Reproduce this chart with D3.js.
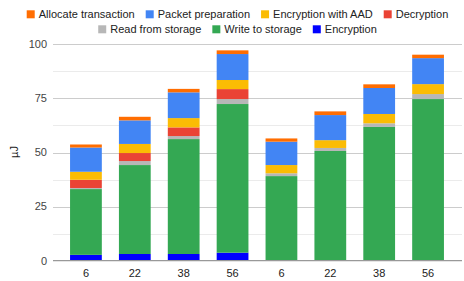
<!DOCTYPE html>
<meta charset="utf-8">
<script src="https://d3js.org/d3.v7.min.js"></script>
<style>
  body { margin: 0; background: #fff; }
  text { font-family: Arial, "Liberation Sans", sans-serif; }
</style>
<body>
<svg id="chart" width="464" height="281"></svg>
<script>
// categories (payload size), two groups of four bars
const labels = ["6", "22", "38", "56", "6", "22", "38", "56"];

// series, bottom of the stack first
const encryption   = [2.7, 3.1, 3.1, 3.7, 0.3, 0.0, 0.3, 0.0];
const writeStorage = [30.4, 41.1, 53.1, 68.7, 38.8, 50.7, 61.5, 74.7];
const readStorage  = [0.5, 1.85, 1.4, 2.3, 1.3, 1.4, 1.7, 2.3];
const decryption   = [3.8, 3.7, 4.0, 4.6, 0, 0, 0, 0];
const encAAD       = [3.7, 4.2, 4.3, 4.2, 3.8, 3.6, 4.3, 4.6];
const packetPrep   = [11.2, 10.9, 11.9, 12.0, 10.8, 11.6, 12.0, 12.0];
const allocTx      = [1.4, 1.65, 1.6, 1.7, 1.5, 1.7, 1.7, 1.6];

const seriesNames = ["Encryption", "Write to storage", "Read from storage", "Decryption",
                     "Encryption with AAD", "Packet preparation", "Allocate transaction"];
const seriesValues = [encryption, writeStorage, readStorage, decryption, encAAD, packetPrep, allocTx];
const colors = ["#0000ff", "#34a853", "#b7b7b7", "#ea4335", "#fbbc04", "#4285f4", "#ff6d01"];

const yTicks = [0, 25, 50, 75, 100];
const yMinor = [12.5, 37.5, 62.5, 87.5];

const svg = d3.select("#chart");

// build rows for d3.stack
const rows = labels.map((l, i) => {
  const r = { idx: i };
  seriesNames.forEach((s, k) => r[s] = seriesValues[k][i]);
  return r;
});

const stack = d3.stack().keys(seriesNames);
const layers = stack(rows);

const x = d3.scaleBand()
    .domain(d3.range(labels.length))
    .range([61.5, 452.5])
    .paddingInner(0.35)
    .paddingOuter(0.175);

const y = d3.scaleLinear()
    .domain([0, 100])
    .range([260.7, 44.3]);

const left = 53, right = 462;

// minor gridlines
svg.append("g")
  .selectAll("line")
  .data(yMinor)
  .join("line")
    .attr("x1", left).attr("x2", right)
    .attr("y1", d => Math.round(y(d)) + 0.5)
    .attr("y2", d => Math.round(y(d)) + 0.5)
    .style("stroke", "#ebebeb");

// major gridlines
svg.append("g")
  .selectAll("line")
  .data(yTicks.filter(d => d > 0))
  .join("line")
    .attr("x1", left).attr("x2", right)
    .attr("y1", d => Math.round(y(d)) + 0.5)
    .attr("y2", d => Math.round(y(d)) + 0.5)
    .style("stroke", "#cccccc");

// y tick labels
svg.append("g")
  .selectAll("text")
  .data(yTicks)
  .join("text")
    .attr("x", 47)
    .attr("y", d => y(d))
    .attr("dy", "0.35em")
    .attr("text-anchor", "end")
    .style("font-size", "11px")
    .style("fill", "#444")
    .text(d => d);

// bars
svg.append("g")
  .selectAll("g")
  .data(layers)
  .join("g")
    .attr("fill", (d, i) => colors[i])
  .selectAll("rect")
  .data(d => d)
  .join("rect")
    .attr("x", d => x(d.data.idx))
    .attr("width", x.bandwidth())
    .attr("y", d => y(d[1]))
    .attr("height", d => Math.max(0, y(d[0]) - y(d[1])));

// baseline
svg.append("line")
    .attr("x1", left).attr("x2", right)
    .attr("y1", y(0)).attr("y2", y(0))
    .style("stroke", "#999")
    .style("stroke-width", 1.3);

// x labels
svg.append("g")
  .selectAll("text")
  .data(labels)
  .join("text")
    .attr("x", (d, i) => x(i) + x.bandwidth() / 2)
    .attr("y", 273)
    .attr("dy", "0.35em")
    .attr("text-anchor", "middle")
    .style("font-size", "11px")
    .style("fill", "#222")
    .text(d => d);

// y axis title
svg.append("text")
    .attr("transform", "translate(14,152) rotate(-90)")
    .attr("dy", "0.35em")
    .attr("text-anchor", "middle")
    .style("font-size", "11px")
    .style("fill", "#222")
    .text("µJ");

// legend, two centred rows
const legendRows = [
  [6, 5, 4, 3],
  [2, 1, 0]
];
const legendY = [14.3, 29.3];
legendRows.forEach((row, r) => {
  const g = svg.append("g");
  let cx = 0;
  row.forEach(k => {
    const item = g.append("g").attr("transform", `translate(${cx},0)`);
    item.append("rect")
      .attr("x", 0).attr("y", legendY[r] - 4)
      .attr("width", 8).attr("height", 8)
      .attr("fill", colors[k]);
    const t = item.append("text")
      .attr("x", 12).attr("y", legendY[r])
      .attr("dy", "0.35em")
      .style("font-size", "11px")
      .style("fill", "#222")
      .text(seriesNames[k]);
    cx += 12 + t.node().getComputedTextLength() + 11;
  });
  const total = cx - 11;
  g.attr("transform", `translate(${237.5 - total / 2},0)`);
});
</script>
</body>
